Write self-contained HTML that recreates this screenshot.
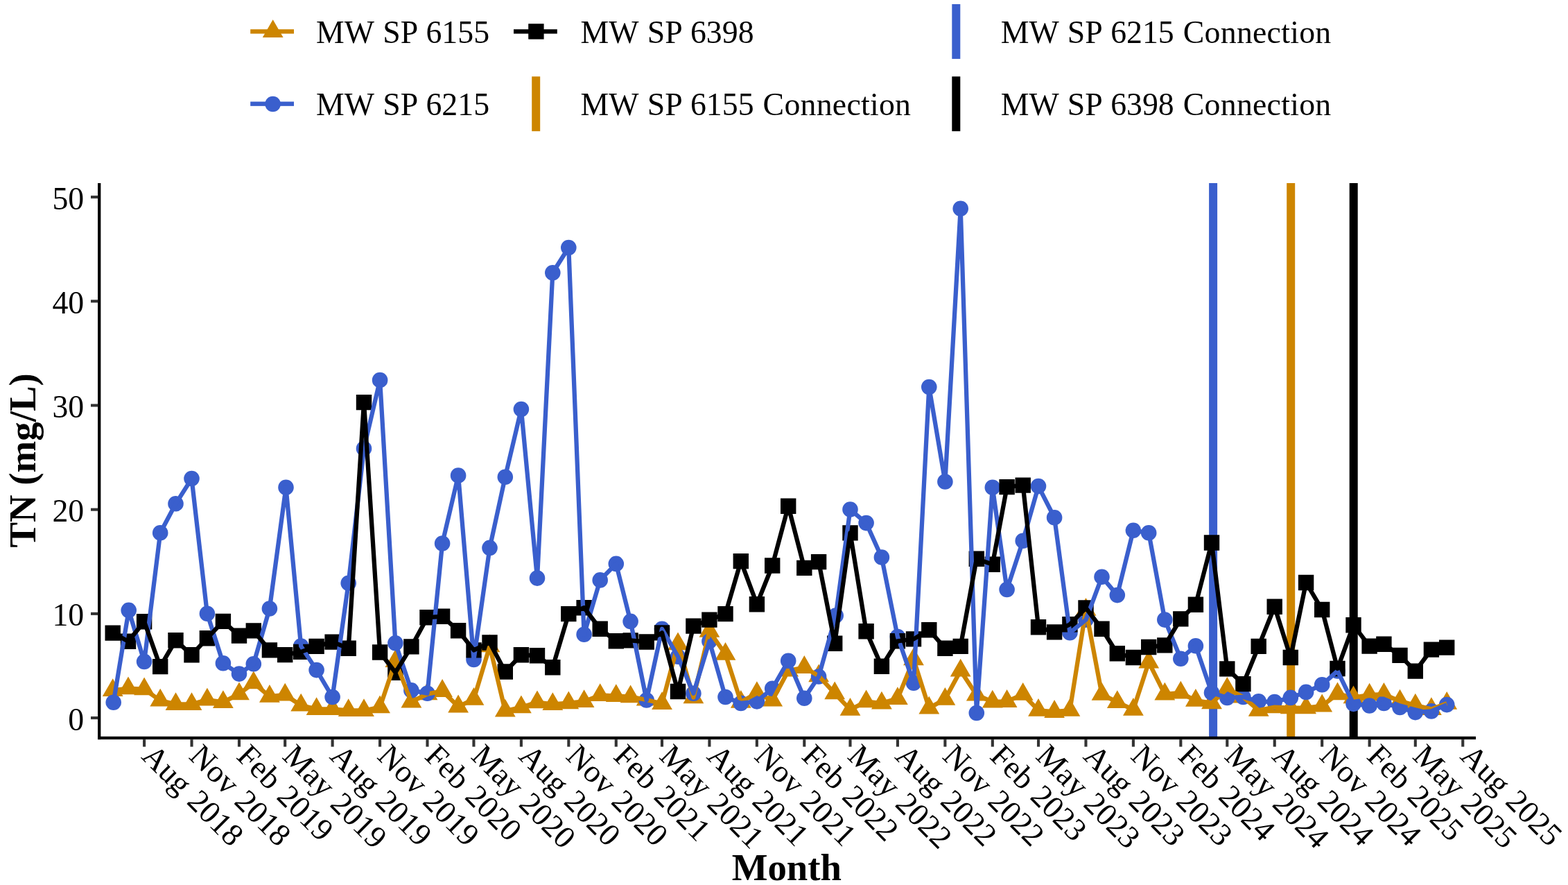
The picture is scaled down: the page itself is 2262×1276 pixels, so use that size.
<!DOCTYPE html>
<html lang="en"><head><meta charset="utf-8"><title>TN (mg/L) by Month</title>
<style>
html,body{margin:0;padding:0;background:#fff;}
body{width:2262px;height:1276px;overflow:hidden;}
svg{display:block;}
text{font-family:"Liberation Serif",serif;fill:#000;}
.t{font-size:45.8px;word-spacing:2px;}
.lg{font-size:45.8px;word-spacing:1.6px;}
.cn{letter-spacing:0.25px;}
.b{font-size:54.8px;font-weight:bold;}
</style></head><body>
<svg width="2262" height="1276" viewBox="0 0 2262 1276">
<rect width="2262" height="1276" fill="#fff"/>
<g id="vlines">
<rect x="1744.1" y="264.0" width="12.0" height="800.0" fill="#3A5FCD"/>
<rect x="1856.2" y="264.0" width="12.0" height="800.0" fill="#CD8500"/>
<rect x="1946.7" y="264.0" width="12.0" height="800.0" fill="#000000"/>
</g>
<g id="points">
<path fill="#CD8500" d="M162.7 978.2L177.6 1004.0L147.8 1004.0ZM185.0 975.5L199.9 1001.3L170.1 1001.3ZM208.1 976.5L223.0 1002.3L193.2 1002.3ZM231.2 992.8L246.1 1018.6L216.3 1018.6ZM253.5 998.2L268.4 1024.0L238.6 1024.0ZM276.5 998.2L291.4 1024.0L261.6 1024.0ZM298.9 991.8L313.8 1017.6L284.0 1017.6ZM321.9 995.2L336.8 1021.0L307.0 1021.0ZM345.0 983.4L359.9 1009.2L330.1 1009.2ZM365.8 967.5L380.7 993.3L350.9 993.3ZM388.9 987.0L403.8 1012.8L374.0 1012.8ZM411.2 984.8L426.1 1010.6L396.3 1010.6ZM434.2 999.8L449.1 1025.6L419.3 1025.6ZM456.6 1005.2L471.5 1031.0L441.7 1031.0ZM479.6 1005.2L494.5 1031.0L464.7 1031.0ZM502.7 1007.3L517.6 1033.1L487.8 1033.1ZM525.0 1007.3L539.9 1033.1L510.1 1033.1ZM548.1 1002.5L563.0 1028.3L533.2 1028.3ZM570.4 936.2L585.3 962.0L555.5 962.0ZM593.4 994.6L608.3 1020.4L578.5 1020.4ZM616.5 983.4L631.4 1009.2L601.6 1009.2ZM638.1 979.1L653.0 1004.9L623.2 1004.9ZM661.1 1001.6L676.0 1027.4L646.2 1027.4ZM683.5 990.9L698.4 1016.7L668.6 1016.7ZM706.5 914.4L721.4 940.2L691.6 940.2ZM728.8 1007.8L743.7 1033.6L713.9 1033.6ZM751.9 1002.5L766.8 1028.3L737.0 1028.3ZM775.0 995.5L789.9 1021.3L760.1 1021.3ZM797.3 998.2L812.2 1024.0L782.4 1024.0ZM820.3 996.4L835.2 1022.2L805.4 1022.2ZM842.6 994.3L857.5 1020.1L827.7 1020.1ZM865.7 985.2L880.6 1011.0L850.8 1011.0ZM888.8 986.3L903.7 1012.1L873.9 1012.1ZM909.6 987.5L924.5 1013.3L894.7 1013.3ZM932.7 991.8L947.6 1017.6L917.8 1017.6ZM955.0 997.3L969.9 1023.1L940.1 1023.1ZM978.0 911.4L992.9 937.2L963.1 937.2ZM1000.4 988.4L1015.3 1014.2L985.5 1014.2ZM1023.4 893.0L1038.3 918.8L1008.5 918.8ZM1046.5 926.0L1061.4 951.8L1031.6 951.8ZM1068.8 994.9L1083.7 1020.7L1053.9 1020.7ZM1091.9 982.2L1106.8 1008.0L1077.0 1008.0ZM1114.2 992.8L1129.1 1018.6L1099.3 1018.6ZM1137.2 949.8L1152.1 975.6L1122.3 975.6ZM1160.3 945.1L1175.2 970.9L1145.4 970.9ZM1181.1 957.4L1196.0 983.2L1166.2 983.2ZM1204.2 982.4L1219.1 1008.2L1189.3 1008.2ZM1226.5 1006.0L1241.4 1031.8L1211.6 1031.8ZM1249.6 994.4L1264.5 1020.2L1234.7 1020.2ZM1271.9 996.7L1286.8 1022.5L1257.0 1022.5ZM1294.9 990.2L1309.8 1016.0L1280.0 1016.0ZM1318.0 933.5L1332.9 959.3L1303.1 959.3ZM1340.3 1003.7L1355.2 1029.5L1325.4 1029.5ZM1363.4 990.9L1378.3 1016.7L1348.5 1016.7ZM1385.7 949.8L1400.6 975.6L1370.8 975.6ZM1408.8 984.8L1423.7 1010.6L1393.9 1010.6ZM1431.8 994.7L1446.7 1020.5L1416.9 1020.5ZM1452.6 994.1L1467.5 1019.9L1437.7 1019.9ZM1475.7 983.9L1490.6 1009.7L1460.8 1009.7ZM1498.0 1006.9L1512.9 1032.7L1483.1 1032.7ZM1521.1 1009.1L1536.0 1034.9L1506.2 1034.9ZM1543.4 1006.9L1558.3 1032.7L1528.5 1032.7ZM1566.5 862.0L1581.4 887.8L1551.6 887.8ZM1589.5 983.9L1604.4 1009.7L1574.6 1009.7ZM1611.8 995.2L1626.7 1021.0L1596.9 1021.0ZM1634.9 1006.0L1649.8 1031.8L1620.0 1031.8ZM1657.2 937.6L1672.1 963.4L1642.3 963.4ZM1680.3 983.7L1695.2 1009.5L1665.4 1009.5ZM1703.3 981.8L1718.2 1007.6L1688.4 1007.6ZM1724.9 992.9L1739.8 1018.7L1710.0 1018.7ZM1748.0 996.4L1762.9 1022.2L1733.1 1022.2ZM1770.3 975.9L1785.2 1001.7L1755.4 1001.7ZM1793.4 987.8L1808.3 1013.6L1778.5 1013.6ZM1815.7 1006.9L1830.6 1032.7L1800.8 1032.7ZM1838.7 1002.5L1853.6 1028.3L1823.8 1028.3ZM1861.8 1003.4L1876.7 1029.2L1846.9 1029.2ZM1884.1 1003.4L1899.0 1029.2L1869.2 1029.2ZM1907.2 1000.6L1922.1 1026.4L1892.3 1026.4ZM1929.5 983.4L1944.4 1009.2L1914.6 1009.2ZM1952.5 988.4L1967.4 1014.2L1937.6 1014.2ZM1975.6 984.8L1990.5 1010.6L1960.7 1010.6ZM1996.4 983.9L2011.3 1009.7L1981.5 1009.7ZM2019.5 993.7L2034.4 1019.5L2004.6 1019.5ZM2041.8 999.7L2056.7 1025.5L2026.9 1025.5ZM2064.9 1005.2L2079.8 1031.0L2050.0 1031.0ZM2087.2 997.0L2102.1 1022.8L2072.3 1022.8Z"/>
<path fill="#3A5FCD" d="M152.4 1012.7a11.3 11.3 0 1 0 22.6 0a11.3 11.3 0 1 0 -22.6 0ZM174.4 879.9a11.3 11.3 0 1 0 22.6 0a11.3 11.3 0 1 0 -22.6 0ZM196.8 953.9a11.3 11.3 0 1 0 22.6 0a11.3 11.3 0 1 0 -22.6 0ZM219.9 768.3a11.3 11.3 0 1 0 22.6 0a11.3 11.3 0 1 0 -22.6 0ZM242.2 726.3a11.3 11.3 0 1 0 22.6 0a11.3 11.3 0 1 0 -22.6 0ZM265.2 690.1a11.3 11.3 0 1 0 22.6 0a11.3 11.3 0 1 0 -22.6 0ZM287.6 884.8a11.3 11.3 0 1 0 22.6 0a11.3 11.3 0 1 0 -22.6 0ZM310.6 956.3a11.3 11.3 0 1 0 22.6 0a11.3 11.3 0 1 0 -22.6 0ZM333.7 971.6a11.3 11.3 0 1 0 22.6 0a11.3 11.3 0 1 0 -22.6 0ZM354.5 957.2a11.3 11.3 0 1 0 22.6 0a11.3 11.3 0 1 0 -22.6 0ZM377.6 877.5a11.3 11.3 0 1 0 22.6 0a11.3 11.3 0 1 0 -22.6 0ZM401.2 702.7a11.3 11.3 0 1 0 22.6 0a11.3 11.3 0 1 0 -22.6 0ZM422.9 931.6a11.3 11.3 0 1 0 22.6 0a11.3 11.3 0 1 0 -22.6 0ZM445.3 966.1a11.3 11.3 0 1 0 22.6 0a11.3 11.3 0 1 0 -22.6 0ZM468.3 1005.0a11.3 11.3 0 1 0 22.6 0a11.3 11.3 0 1 0 -22.6 0ZM491.4 840.7a11.3 11.3 0 1 0 22.6 0a11.3 11.3 0 1 0 -22.6 0ZM513.7 646.8a11.3 11.3 0 1 0 22.6 0a11.3 11.3 0 1 0 -22.6 0ZM536.8 548.1a11.3 11.3 0 1 0 22.6 0a11.3 11.3 0 1 0 -22.6 0ZM559.1 927.3a11.3 11.3 0 1 0 22.6 0a11.3 11.3 0 1 0 -22.6 0ZM582.1 995.4a11.3 11.3 0 1 0 22.6 0a11.3 11.3 0 1 0 -22.6 0ZM605.2 999.7a11.3 11.3 0 1 0 22.6 0a11.3 11.3 0 1 0 -22.6 0ZM626.8 783.6a11.3 11.3 0 1 0 22.6 0a11.3 11.3 0 1 0 -22.6 0ZM649.8 685.6a11.3 11.3 0 1 0 22.6 0a11.3 11.3 0 1 0 -22.6 0ZM672.2 951.0a11.3 11.3 0 1 0 22.6 0a11.3 11.3 0 1 0 -22.6 0ZM695.2 789.9a11.3 11.3 0 1 0 22.6 0a11.3 11.3 0 1 0 -22.6 0ZM717.5 687.7a11.3 11.3 0 1 0 22.6 0a11.3 11.3 0 1 0 -22.6 0ZM740.6 590.0a11.3 11.3 0 1 0 22.6 0a11.3 11.3 0 1 0 -22.6 0ZM763.7 833.6a11.3 11.3 0 1 0 22.6 0a11.3 11.3 0 1 0 -22.6 0ZM786.0 393.3a11.3 11.3 0 1 0 22.6 0a11.3 11.3 0 1 0 -22.6 0ZM809.0 357.0a11.3 11.3 0 1 0 22.6 0a11.3 11.3 0 1 0 -22.6 0ZM831.3 914.8a11.3 11.3 0 1 0 22.6 0a11.3 11.3 0 1 0 -22.6 0ZM854.4 836.4a11.3 11.3 0 1 0 22.6 0a11.3 11.3 0 1 0 -22.6 0ZM877.5 812.9a11.3 11.3 0 1 0 22.6 0a11.3 11.3 0 1 0 -22.6 0ZM898.3 895.9a11.3 11.3 0 1 0 22.6 0a11.3 11.3 0 1 0 -22.6 0ZM921.4 1009.5a11.3 11.3 0 1 0 22.6 0a11.3 11.3 0 1 0 -22.6 0ZM943.7 906.8a11.3 11.3 0 1 0 22.6 0a11.3 11.3 0 1 0 -22.6 0ZM966.7 946.7a11.3 11.3 0 1 0 22.6 0a11.3 11.3 0 1 0 -22.6 0ZM989.1 999.7a11.3 11.3 0 1 0 22.6 0a11.3 11.3 0 1 0 -22.6 0ZM1012.1 924.6a11.3 11.3 0 1 0 22.6 0a11.3 11.3 0 1 0 -22.6 0ZM1035.2 1005.0a11.3 11.3 0 1 0 22.6 0a11.3 11.3 0 1 0 -22.6 0ZM1057.5 1013.9a11.3 11.3 0 1 0 22.6 0a11.3 11.3 0 1 0 -22.6 0ZM1080.6 1011.3a11.3 11.3 0 1 0 22.6 0a11.3 11.3 0 1 0 -22.6 0ZM1102.9 992.7a11.3 11.3 0 1 0 22.6 0a11.3 11.3 0 1 0 -22.6 0ZM1125.9 952.8a11.3 11.3 0 1 0 22.6 0a11.3 11.3 0 1 0 -22.6 0ZM1149.0 1006.8a11.3 11.3 0 1 0 22.6 0a11.3 11.3 0 1 0 -22.6 0ZM1169.8 975.5a11.3 11.3 0 1 0 22.6 0a11.3 11.3 0 1 0 -22.6 0ZM1194.4 887.5a11.3 11.3 0 1 0 22.6 0a11.3 11.3 0 1 0 -22.6 0ZM1215.2 734.6a11.3 11.3 0 1 0 22.6 0a11.3 11.3 0 1 0 -22.6 0ZM1238.3 754.1a11.3 11.3 0 1 0 22.6 0a11.3 11.3 0 1 0 -22.6 0ZM1260.6 803.6a11.3 11.3 0 1 0 22.6 0a11.3 11.3 0 1 0 -22.6 0ZM1283.6 918.0a11.3 11.3 0 1 0 22.6 0a11.3 11.3 0 1 0 -22.6 0ZM1306.7 984.7a11.3 11.3 0 1 0 22.6 0a11.3 11.3 0 1 0 -22.6 0ZM1329.0 558.0a11.3 11.3 0 1 0 22.6 0a11.3 11.3 0 1 0 -22.6 0ZM1352.1 694.5a11.3 11.3 0 1 0 22.6 0a11.3 11.3 0 1 0 -22.6 0ZM1374.4 300.8a11.3 11.3 0 1 0 22.6 0a11.3 11.3 0 1 0 -22.6 0ZM1397.5 1028.0a11.3 11.3 0 1 0 22.6 0a11.3 11.3 0 1 0 -22.6 0ZM1420.5 702.7a11.3 11.3 0 1 0 22.6 0a11.3 11.3 0 1 0 -22.6 0ZM1441.3 850.0a11.3 11.3 0 1 0 22.6 0a11.3 11.3 0 1 0 -22.6 0ZM1464.4 779.7a11.3 11.3 0 1 0 22.6 0a11.3 11.3 0 1 0 -22.6 0ZM1486.7 701.1a11.3 11.3 0 1 0 22.6 0a11.3 11.3 0 1 0 -22.6 0ZM1509.8 746.2a11.3 11.3 0 1 0 22.6 0a11.3 11.3 0 1 0 -22.6 0ZM1532.1 912.3a11.3 11.3 0 1 0 22.6 0a11.3 11.3 0 1 0 -22.6 0ZM1555.2 893.6a11.3 11.3 0 1 0 22.6 0a11.3 11.3 0 1 0 -22.6 0ZM1578.2 831.8a11.3 11.3 0 1 0 22.6 0a11.3 11.3 0 1 0 -22.6 0ZM1600.5 858.1a11.3 11.3 0 1 0 22.6 0a11.3 11.3 0 1 0 -22.6 0ZM1623.6 764.7a11.3 11.3 0 1 0 22.6 0a11.3 11.3 0 1 0 -22.6 0ZM1645.9 768.3a11.3 11.3 0 1 0 22.6 0a11.3 11.3 0 1 0 -22.6 0ZM1669.0 893.6a11.3 11.3 0 1 0 22.6 0a11.3 11.3 0 1 0 -22.6 0ZM1692.0 949.7a11.3 11.3 0 1 0 22.6 0a11.3 11.3 0 1 0 -22.6 0ZM1713.6 931.2a11.3 11.3 0 1 0 22.6 0a11.3 11.3 0 1 0 -22.6 0ZM1736.7 998.8a11.3 11.3 0 1 0 22.6 0a11.3 11.3 0 1 0 -22.6 0ZM1759.0 1005.9a11.3 11.3 0 1 0 22.6 0a11.3 11.3 0 1 0 -22.6 0ZM1782.1 1005.0a11.3 11.3 0 1 0 22.6 0a11.3 11.3 0 1 0 -22.6 0ZM1804.4 1011.3a11.3 11.3 0 1 0 22.6 0a11.3 11.3 0 1 0 -22.6 0ZM1827.4 1012.1a11.3 11.3 0 1 0 22.6 0a11.3 11.3 0 1 0 -22.6 0ZM1850.5 1005.9a11.3 11.3 0 1 0 22.6 0a11.3 11.3 0 1 0 -22.6 0ZM1872.8 997.9a11.3 11.3 0 1 0 22.6 0a11.3 11.3 0 1 0 -22.6 0ZM1895.9 987.3a11.3 11.3 0 1 0 22.6 0a11.3 11.3 0 1 0 -22.6 0ZM1918.2 967.4a11.3 11.3 0 1 0 22.6 0a11.3 11.3 0 1 0 -22.6 0ZM1941.2 1014.8a11.3 11.3 0 1 0 22.6 0a11.3 11.3 0 1 0 -22.6 0ZM1964.3 1017.5a11.3 11.3 0 1 0 22.6 0a11.3 11.3 0 1 0 -22.6 0ZM1985.1 1013.9a11.3 11.3 0 1 0 22.6 0a11.3 11.3 0 1 0 -22.6 0ZM2008.2 1020.0a11.3 11.3 0 1 0 22.6 0a11.3 11.3 0 1 0 -22.6 0ZM2030.5 1027.1a11.3 11.3 0 1 0 22.6 0a11.3 11.3 0 1 0 -22.6 0ZM2053.6 1025.4a11.3 11.3 0 1 0 22.6 0a11.3 11.3 0 1 0 -22.6 0ZM2075.9 1016.1a11.3 11.3 0 1 0 22.6 0a11.3 11.3 0 1 0 -22.6 0Z"/>
<path fill="#000000" d="M151.5 901.4h22.4v22.4h-22.4ZM173.8 913.5h22.4v22.4h-22.4ZM196.9 885.0h22.4v22.4h-22.4ZM220.0 949.9h22.4v22.4h-22.4ZM242.3 912.0h22.4v22.4h-22.4ZM265.3 933.1h22.4v22.4h-22.4ZM287.7 909.0h22.4v22.4h-22.4ZM310.7 884.7h22.4v22.4h-22.4ZM333.8 905.4h22.4v22.4h-22.4ZM354.6 898.2h22.4v22.4h-22.4ZM377.7 926.2h22.4v22.4h-22.4ZM400.0 932.9h22.4v22.4h-22.4ZM423.0 928.7h22.4v22.4h-22.4ZM445.4 920.7h22.4v22.4h-22.4ZM468.4 914.4h22.4v22.4h-22.4ZM491.5 923.6h22.4v22.4h-22.4ZM513.8 568.9h22.4v22.4h-22.4ZM536.9 929.3h22.4v22.4h-22.4ZM559.2 958.5h22.4v22.4h-22.4ZM582.2 921.2h22.4v22.4h-22.4ZM605.3 879.0h22.4v22.4h-22.4ZM626.9 877.6h22.4v22.4h-22.4ZM649.9 898.0h22.4v22.4h-22.4ZM672.3 926.2h22.4v22.4h-22.4ZM695.3 915.3h22.4v22.4h-22.4ZM717.6 957.3h22.4v22.4h-22.4ZM740.7 933.1h22.4v22.4h-22.4ZM763.8 934.1h22.4v22.4h-22.4ZM786.1 951.0h22.4v22.4h-22.4ZM809.1 873.9h22.4v22.4h-22.4ZM831.4 865.0h22.4v22.4h-22.4ZM854.5 895.5h22.4v22.4h-22.4ZM877.6 913.1h22.4v22.4h-22.4ZM898.4 912.2h22.4v22.4h-22.4ZM921.5 914.3h22.4v22.4h-22.4ZM943.8 901.2h22.4v22.4h-22.4ZM966.8 985.8h22.4v22.4h-22.4ZM989.2 891.4h22.4v22.4h-22.4ZM1012.2 882.4h22.4v22.4h-22.4ZM1035.3 873.9h22.4v22.4h-22.4ZM1057.6 797.9h22.4v22.4h-22.4ZM1080.7 860.0h22.4v22.4h-22.4ZM1103.0 804.3h22.4v22.4h-22.4ZM1126.0 718.6h22.4v22.4h-22.4ZM1149.1 807.7h22.4v22.4h-22.4ZM1169.9 798.9h22.4v22.4h-22.4ZM1193.0 916.5h22.4v22.4h-22.4ZM1215.3 757.2h22.4v22.4h-22.4ZM1238.4 899.0h22.4v22.4h-22.4ZM1260.7 949.6h22.4v22.4h-22.4ZM1283.7 913.1h22.4v22.4h-22.4ZM1306.8 910.2h22.4v22.4h-22.4ZM1329.1 897.0h22.4v22.4h-22.4ZM1352.2 923.5h22.4v22.4h-22.4ZM1374.5 920.7h22.4v22.4h-22.4ZM1397.6 794.6h22.4v22.4h-22.4ZM1420.6 802.5h22.4v22.4h-22.4ZM1441.4 690.9h22.4v22.4h-22.4ZM1464.5 688.4h22.4v22.4h-22.4ZM1486.8 893.1h22.4v22.4h-22.4ZM1509.9 900.2h22.4v22.4h-22.4ZM1532.2 889.0h22.4v22.4h-22.4ZM1555.3 865.3h22.4v22.4h-22.4ZM1578.3 895.6h22.4v22.4h-22.4ZM1600.6 931.1h22.4v22.4h-22.4ZM1623.7 936.8h22.4v22.4h-22.4ZM1646.0 921.8h22.4v22.4h-22.4ZM1669.1 919.2h22.4v22.4h-22.4ZM1692.1 881.2h22.4v22.4h-22.4ZM1713.7 860.6h22.4v22.4h-22.4ZM1736.8 771.3h22.4v22.4h-22.4ZM1759.1 953.2h22.4v22.4h-22.4ZM1782.2 974.9h22.4v22.4h-22.4ZM1804.5 920.7h22.4v22.4h-22.4ZM1827.5 863.5h22.4v22.4h-22.4ZM1850.6 936.8h22.4v22.4h-22.4ZM1872.9 828.8h22.4v22.4h-22.4ZM1896.0 867.8h22.4v22.4h-22.4ZM1918.3 952.8h22.4v22.4h-22.4ZM1941.3 890.1h22.4v22.4h-22.4ZM1964.4 920.4h22.4v22.4h-22.4ZM1985.2 917.6h22.4v22.4h-22.4ZM2008.3 933.7h22.4v22.4h-22.4ZM2030.6 956.4h22.4v22.4h-22.4ZM2053.7 925.4h22.4v22.4h-22.4ZM2076.0 922.4h22.4v22.4h-22.4Z"/>
</g>
<g id="lines" fill="none" stroke-width="6.3" stroke-linejoin="round" stroke-linecap="butt">
<path stroke="#CD8500" d="M162.7 995.4L185.0 992.7L208.1 993.7L231.2 1010.0L253.5 1015.4L276.5 1015.4L298.9 1009.0L321.9 1012.4L345.0 1000.6L365.8 984.7L388.9 1004.2L411.2 1002.0L434.2 1017.0L456.6 1022.4L479.6 1022.4L502.7 1024.5L525.0 1024.5L548.1 1019.7L570.4 953.4L593.4 1011.8L616.5 1000.6L638.1 996.3L661.1 1018.8L683.5 1008.1L706.5 931.6L728.8 1025.0L751.9 1019.7L775.0 1012.7L797.3 1015.4L820.3 1013.6L842.6 1011.5L865.7 1002.4L888.8 1003.5L909.6 1004.7L932.7 1009.0L955.0 1014.5L978.0 928.6L1000.4 1005.6L1023.4 910.2L1046.5 943.2L1068.8 1012.1L1091.9 999.4L1114.2 1010.0L1137.2 967.0L1160.3 962.3L1181.1 974.6L1204.2 999.6L1226.5 1023.2L1249.6 1011.6L1271.9 1013.9L1294.9 1007.4L1318.0 950.7L1340.3 1020.9L1363.4 1008.1L1385.7 967.0L1408.8 1002.0L1431.8 1011.9L1452.6 1011.3L1475.7 1001.1L1498.0 1024.1L1521.1 1026.3L1543.4 1024.1L1566.5 879.2L1589.5 1001.1L1611.8 1012.4L1634.9 1023.2L1657.2 954.8L1680.3 1000.9L1703.3 999.0L1724.9 1010.1L1748.0 1013.6L1770.3 993.1L1793.4 1005.0L1815.7 1024.1L1838.7 1019.7L1861.8 1020.6L1884.1 1020.6L1907.2 1017.8L1929.5 1000.6L1952.5 1005.6L1975.6 1002.0L1996.4 1001.1L2019.5 1010.9L2041.8 1016.9L2064.9 1022.4L2087.2 1014.2"/>
<path stroke="#3A5FCD" d="M163.7 1012.7L185.7 879.9L208.1 953.9L231.2 768.3L253.5 726.3L276.5 690.1L298.9 884.8L321.9 956.3L345.0 971.6L365.8 957.2L388.9 877.5L412.5 702.7L434.2 931.6L456.6 966.1L479.6 1005.0L502.7 840.7L525.0 646.8L548.1 548.1L570.4 927.3L593.4 995.4L616.5 999.7L638.1 783.6L661.1 685.6L683.5 951.0L706.5 789.9L728.8 687.7L751.9 590.0L775.0 833.6L797.3 393.3L820.3 357.0L842.6 914.8L865.7 836.4L888.8 812.9L909.6 895.9L932.7 1009.5L955.0 906.8L978.0 946.7L1000.4 999.7L1023.4 924.6L1046.5 1005.0L1068.8 1013.9L1091.9 1011.3L1114.2 992.7L1137.2 952.8L1160.3 1006.8L1181.1 975.5L1205.7 887.5L1226.5 734.6L1249.6 754.1L1271.9 803.6L1294.9 918.0L1318.0 984.7L1340.3 558.0L1363.4 694.5L1385.7 300.8L1408.8 1028.0L1431.8 702.7L1452.6 850.0L1475.7 779.7L1498.0 701.1L1521.1 746.2L1543.4 912.3L1566.5 893.6L1589.5 831.8L1611.8 858.1L1634.9 764.7L1657.2 768.3L1680.3 893.6L1703.3 949.7L1724.9 931.2L1748.0 998.8L1770.3 1005.9L1793.4 1005.0L1815.7 1011.3L1838.7 1012.1L1861.8 1005.9L1884.1 997.9L1907.2 987.3L1929.5 967.4L1952.5 1014.8L1975.6 1017.5L1996.4 1013.9L2019.5 1020.0L2041.8 1027.1L2064.9 1025.4L2087.2 1016.1"/>
<path stroke="#000000" d="M162.7 912.6L185.0 924.7L208.1 896.2L231.2 961.1L253.5 923.2L276.5 944.3L298.9 920.2L321.9 895.9L345.0 916.6L365.8 909.4L388.9 937.4L411.2 944.1L434.2 939.9L456.6 931.9L479.6 925.6L502.7 934.8L525.0 580.1L548.1 940.5L570.4 969.7L593.4 932.4L616.5 890.2L638.1 888.8L661.1 909.2L683.5 937.4L706.5 926.5L728.8 968.5L751.9 944.3L775.0 945.3L797.3 962.2L820.3 885.1L842.6 876.2L865.7 906.7L888.8 924.3L909.6 923.4L932.7 925.5L955.0 912.4L978.0 997.0L1000.4 902.6L1023.4 893.6L1046.5 885.1L1068.8 809.1L1091.9 871.2L1114.2 815.5L1137.2 729.8L1160.3 818.9L1181.1 810.1L1204.2 927.7L1226.5 768.4L1249.6 910.2L1271.9 960.8L1294.9 924.3L1318.0 921.4L1340.3 908.2L1363.4 934.7L1385.7 931.9L1408.8 805.8L1431.8 813.7L1452.6 702.1L1475.7 699.6L1498.0 904.3L1521.1 911.4L1543.4 900.2L1566.5 876.5L1589.5 906.8L1611.8 942.3L1634.9 948.0L1657.2 933.0L1680.3 930.4L1703.3 892.4L1724.9 871.8L1748.0 782.5L1770.3 964.4L1793.4 986.1L1815.7 931.9L1838.7 874.7L1861.8 948.0L1884.1 840.0L1907.2 879.0L1929.5 964.0L1952.5 901.3L1975.6 931.6L1996.4 928.8L2019.5 944.9L2041.8 967.6L2064.9 936.6L2087.2 933.6"/>
</g>
<g id="axes">
<rect x="141.05" y="264.0" width="4.3" height="802.15" fill="#000"/>
<rect x="141.05" y="1061.85" width="1987.95" height="4.3" fill="#000"/>
<rect x="131" y="1033.01" width="10.2" height="4.1" fill="#333"/>
<rect x="131" y="882.82" width="10.2" height="4.1" fill="#333"/>
<rect x="131" y="732.63" width="10.2" height="4.1" fill="#333"/>
<rect x="131" y="582.44" width="10.2" height="4.1" fill="#333"/>
<rect x="131" y="432.25" width="10.2" height="4.1" fill="#333"/>
<rect x="131" y="282.06" width="10.2" height="4.1" fill="#333"/>
<rect x="206.05" y="1066.15" width="4.1" height="10.5" fill="#333"/>
<rect x="274.49" y="1066.15" width="4.1" height="10.5" fill="#333"/>
<rect x="342.93" y="1066.15" width="4.1" height="10.5" fill="#333"/>
<rect x="409.13" y="1066.15" width="4.1" height="10.5" fill="#333"/>
<rect x="477.57" y="1066.15" width="4.1" height="10.5" fill="#333"/>
<rect x="546.01" y="1066.15" width="4.1" height="10.5" fill="#333"/>
<rect x="614.45" y="1066.15" width="4.1" height="10.5" fill="#333"/>
<rect x="681.40" y="1066.15" width="4.1" height="10.5" fill="#333"/>
<rect x="749.84" y="1066.15" width="4.1" height="10.5" fill="#333"/>
<rect x="818.28" y="1066.15" width="4.1" height="10.5" fill="#333"/>
<rect x="886.72" y="1066.15" width="4.1" height="10.5" fill="#333"/>
<rect x="952.93" y="1066.15" width="4.1" height="10.5" fill="#333"/>
<rect x="1021.36" y="1066.15" width="4.1" height="10.5" fill="#333"/>
<rect x="1089.80" y="1066.15" width="4.1" height="10.5" fill="#333"/>
<rect x="1158.24" y="1066.15" width="4.1" height="10.5" fill="#333"/>
<rect x="1224.45" y="1066.15" width="4.1" height="10.5" fill="#333"/>
<rect x="1292.89" y="1066.15" width="4.1" height="10.5" fill="#333"/>
<rect x="1361.33" y="1066.15" width="4.1" height="10.5" fill="#333"/>
<rect x="1429.77" y="1066.15" width="4.1" height="10.5" fill="#333"/>
<rect x="1495.97" y="1066.15" width="4.1" height="10.5" fill="#333"/>
<rect x="1564.41" y="1066.15" width="4.1" height="10.5" fill="#333"/>
<rect x="1632.85" y="1066.15" width="4.1" height="10.5" fill="#333"/>
<rect x="1701.29" y="1066.15" width="4.1" height="10.5" fill="#333"/>
<rect x="1768.24" y="1066.15" width="4.1" height="10.5" fill="#333"/>
<rect x="1836.68" y="1066.15" width="4.1" height="10.5" fill="#333"/>
<rect x="1905.12" y="1066.15" width="4.1" height="10.5" fill="#333"/>
<rect x="1973.56" y="1066.15" width="4.1" height="10.5" fill="#333"/>
<rect x="2039.76" y="1066.15" width="4.1" height="10.5" fill="#333"/>
<rect x="2108.20" y="1066.15" width="4.1" height="10.5" fill="#333"/>
</g>
<g id="ylabels" class="t" text-anchor="end">
<text x="121.2" y="1052.5">0</text>
<text x="121.2" y="902.3">10</text>
<text x="121.2" y="752.1">20</text>
<text x="121.2" y="601.9">30</text>
<text x="121.2" y="451.7">40</text>
<text x="121.2" y="301.6">50</text>
</g>
<g id="xlabels" class="t">
<text transform="translate(202.6 1092.3) rotate(45)">Aug 2018</text>
<text transform="translate(271.0 1092.3) rotate(45)">Nov 2018</text>
<text transform="translate(339.5 1092.3) rotate(45)">Feb 2019</text>
<text transform="translate(405.7 1092.3) rotate(45)">May 2019</text>
<text transform="translate(474.1 1092.3) rotate(45)">Aug 2019</text>
<text transform="translate(542.6 1092.3) rotate(45)">Nov 2019</text>
<text transform="translate(611.0 1092.3) rotate(45)">Feb 2020</text>
<text transform="translate(678.0 1092.3) rotate(45)">May 2020</text>
<text transform="translate(746.4 1092.3) rotate(45)">Aug 2020</text>
<text transform="translate(814.8 1092.3) rotate(45)">Nov 2020</text>
<text transform="translate(883.3 1092.3) rotate(45)">Feb 2021</text>
<text transform="translate(949.5 1092.3) rotate(45)">May 2021</text>
<text transform="translate(1017.9 1092.3) rotate(45)">Aug 2021</text>
<text transform="translate(1086.4 1092.3) rotate(45)">Nov 2021</text>
<text transform="translate(1154.8 1092.3) rotate(45)">Feb 2022</text>
<text transform="translate(1221.0 1092.3) rotate(45)">May 2022</text>
<text transform="translate(1289.4 1092.3) rotate(45)">Aug 2022</text>
<text transform="translate(1357.9 1092.3) rotate(45)">Nov 2022</text>
<text transform="translate(1426.3 1092.3) rotate(45)">Feb 2023</text>
<text transform="translate(1492.5 1092.3) rotate(45)">May 2023</text>
<text transform="translate(1561.0 1092.3) rotate(45)">Aug 2023</text>
<text transform="translate(1629.4 1092.3) rotate(45)">Nov 2023</text>
<text transform="translate(1697.8 1092.3) rotate(45)">Feb 2024</text>
<text transform="translate(1764.8 1092.3) rotate(45)">May 2024</text>
<text transform="translate(1833.2 1092.3) rotate(45)">Aug 2024</text>
<text transform="translate(1901.7 1092.3) rotate(45)">Nov 2024</text>
<text transform="translate(1970.1 1092.3) rotate(45)">Feb 2025</text>
<text transform="translate(2036.3 1092.3) rotate(45)">May 2025</text>
<text transform="translate(2104.8 1092.3) rotate(45)">Aug 2025</text>
</g>
<text class="b" text-anchor="middle" transform="translate(51 663.9) rotate(-90)">TN (mg/L)</text>
<text class="b" text-anchor="middle" x="1134.9" y="1268.6">Month</text>
<g id="legend">
<rect x="361.2" y="42.25" width="62.8" height="6.3" fill="#CD8500"/>
<path fill="#CD8500" d="M393.7 28.2L408.6 54.0L378.8 54.0Z"/>
<rect x="361.2" y="146.54999999999998" width="62.8" height="6.3" fill="#3A5FCD"/>
<path fill="#3A5FCD" d="M382.3 150.0a11.3 11.3 0 1 0 22.6 0a11.3 11.3 0 1 0 -22.6 0Z"/>
<rect x="741" y="42.25" width="62.8" height="6.3" fill="#000000"/>
<path fill="#000000" d="M762.2 34.2h22.4v22.4h-22.4Z"/>
<rect x="767.2" y="110.3" width="12.0" height="78.9" fill="#CD8500"/>
<rect x="1373.3" y="6.0" width="12.0" height="78.9" fill="#3A5FCD"/>
<rect x="1373.3" y="110.3" width="12.0" height="78.9" fill="#000000"/>
<g class="lg">
<text x="456" y="61.9">MW SP 6155</text>
<text x="456" y="166.0">MW SP 6215</text>
<text x="837.5" y="61.9">MW SP 6398</text>
<text x="837.5" y="166.0">MW SP 6155 <tspan class="cn">Connection</tspan></text>
<text x="1443.7" y="61.9">MW SP 6215 <tspan class="cn">Connection</tspan></text>
<text x="1443.7" y="166.0">MW SP 6398 <tspan class="cn">Connection</tspan></text>
</g></g>
</svg></body></html>
